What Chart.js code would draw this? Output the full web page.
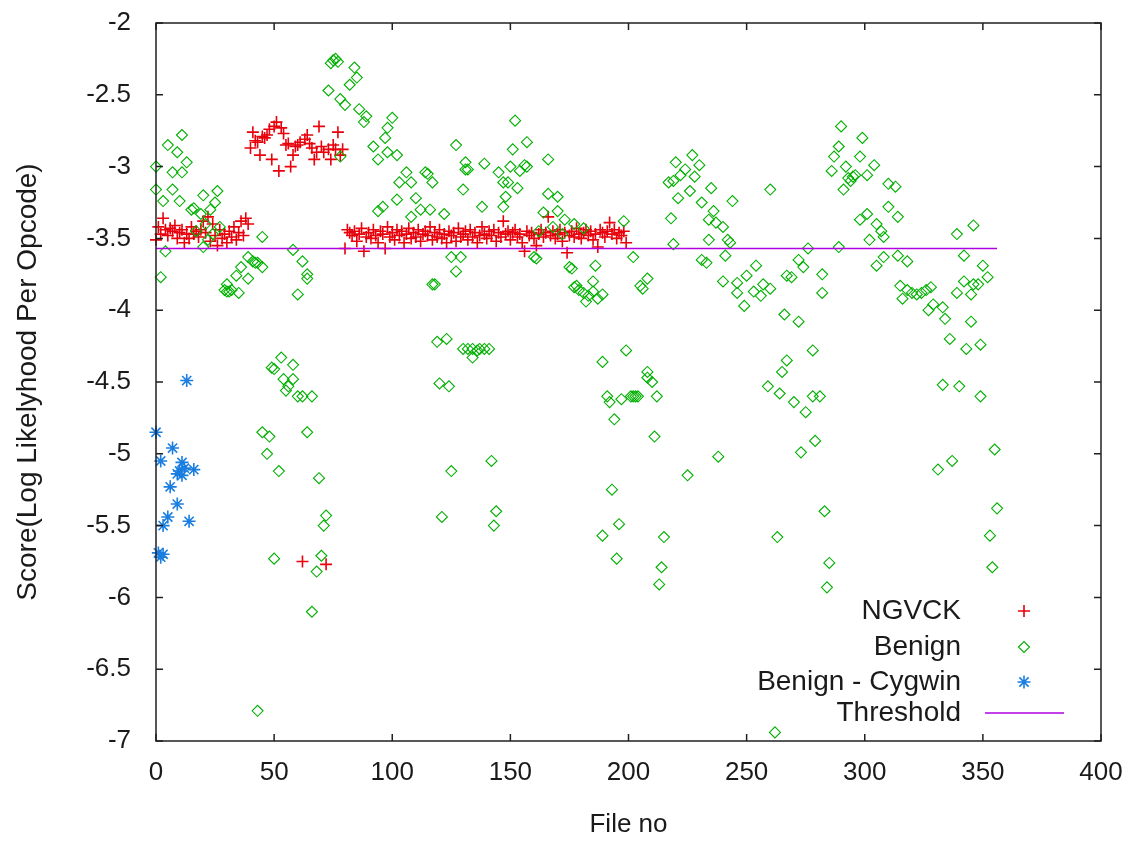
<!DOCTYPE html>
<html lang="en">
    <head>
        <meta charset="UTF-8">
        <title>Score per file</title>
        <style>
            body { margin: 0; background: #fff; }
            .chart-container { position: relative; width: 1131px; height: 841px; }
        </style>
    </head>
    <body>
        <div class="chart-container">
            <canvas id="myChart"></canvas>
        </div>
    </body>
    <script src="https://cdn.jsdelivr.net/npm/chart.js@4.4.1/dist/chart.umd.min.js"></script>
    <script>

        // NGVCK scores, one per file no (0..199)
        const ngvckScores = [
            -3.51,-3.42,-3.47,-3.36,-3.44,-3.48,-3.43,-3.45,-3.41,-3.50,
            -3.46,-3.44,-3.53,-3.47,-3.50,-3.42,-3.47,-3.45,-3.49,-3.44,
            -3.38,-3.46,-3.35,-3.52,-3.40,-3.48,-3.55,-3.44,-3.50,-3.47,
            -3.53,-3.45,-3.49,-3.42,-3.51,-3.46,-3.38,-3.48,-3.36,-3.40,
            -2.87,-2.76,-2.82,-2.83,-2.92,-2.79,-2.80,-2.78,-2.74,-2.95,
            -2.72,-2.69,-3.03,-2.73,-2.77,-2.85,-2.84,-3.00,-2.92,-2.86,
            -2.85,-2.83,-5.75,-2.81,-2.78,-2.84,-2.87,-2.95,-2.90,-2.72,
            -2.86,-2.90,-5.77,-2.88,-2.95,-2.85,-2.88,-2.76,-2.92,-2.88,
            -3.57,-3.44,-3.46,-3.48,-3.45,-3.52,-3.47,-3.43,-3.59,-3.49,
            -3.46,-3.50,-3.44,-3.48,-3.53,-3.45,-3.47,-3.57,-3.42,-3.49,
            -3.46,-3.51,-3.44,-3.48,-3.45,-3.53,-3.47,-3.43,-3.50,-3.46,
            -3.49,-3.44,-3.52,-3.47,-3.45,-3.48,-3.42,-3.51,-3.46,-3.49,
            -3.44,-3.50,-3.47,-3.53,-3.45,-3.48,-3.46,-3.52,-3.43,-3.49,
            -3.47,-3.45,-3.51,-3.44,-3.49,-3.46,-3.53,-3.48,-3.42,-3.47,
            -3.50,-3.45,-3.48,-3.44,-3.52,-3.46,-3.49,-3.38,-3.47,-3.45,
            -3.51,-3.46,-3.44,-3.49,-3.47,-3.53,-3.59,-3.45,-3.48,-3.46,
            -3.50,-3.55,-3.47,-3.44,-3.49,-3.46,-3.35,-3.48,-3.45,-3.50,
            -3.47,-3.44,-3.52,-3.46,-3.60,-3.48,-3.45,-3.49,-3.43,-3.47,
            -3.50,-3.46,-3.44,-3.48,-3.45,-3.51,-3.47,-3.56,-3.44,-3.46,
            -3.49,-3.45,-3.39,-3.47,-3.44,-3.50,-3.46,-3.48,-3.45,-3.53
        ]

        // benign files: [file no, score]
        const benignPoints = [
            [0,-3.00],[0,-3.16],[2,-3.77],[3,-3.24],[4,-3.59],[5,-2.85],[7,-3.04],[7,-3.16],[9,-2.90],[10,-3.24],
            [11,-2.78],[11,-3.04],[13,-2.97],[15,-3.30],[16,-3.29],[17,-3.45],[19,-3.33],[20,-3.20],[20,-3.56],[21,-3.40],
            [22,-3.51],[23,-3.30],[24,-3.47],[25,-3.25],[26,-3.17],[27,-3.42],[29,-3.86],[30,-3.87],[30,-3.82],[31,-3.87],
            [32,-3.86],[34,-3.76],[35,-3.88],[36,-3.70],[39,-3.63],[39,-3.78],[41,-3.66],[42,-3.67],[43,-3.67],[43,-6.79],
            [45,-3.49],[45,-3.70],[45,-4.85],[47,-5.00],[48,-4.88],[49,-4.40],[50,-4.41],[50,-5.73],[52,-5.12],[53,-4.33],
            [54,-4.48],[55,-4.56],[56,-4.53],[58,-3.58],[58,-4.38],[58,-4.48],[60,-3.89],[60,-4.60],[62,-3.66],[62,-4.60],
            [64,-3.75],[64,-3.78],[64,-4.85],[66,-4.60],[66,-6.10],[68,-5.82],[69,-5.17],[70,-5.71],[71,-5.50],[72,-5.43],
            [73,-2.47],[74,-2.28],[75,-2.26],[76,-2.25],[77,-2.27],[78,-2.53],[78,-2.93],[80,-2.57],[82,-2.43],[84,-2.31],
            [85,-2.38],[86,-2.60],[88,-2.69],[89,-2.65],[92,-2.86],[94,-2.95],[94,-3.31],[96,-3.28],[97,-2.80],[98,-2.73],
            [98,-2.90],[100,-2.66],[102,-2.92],[102,-3.23],[103,-3.11],[106,-3.04],[108,-3.11],[108,-3.35],[110,-3.22],[112,-3.30],
            [114,-3.04],[115,-3.05],[116,-3.30],[117,-3.11],[117,-3.82],[118,-3.82],[119,-4.22],[120,-4.51],[121,-5.44],[122,-3.33],
            [123,-4.20],[124,-4.53],[125,-3.63],[125,-5.12],[127,-2.85],[127,-3.73],[129,-3.63],[130,-3.16],[130,-4.27],[131,-2.97],
            [131,-3.02],[132,-3.02],[132,-4.27],[134,-4.27],[134,-4.33],[136,-4.28],[137,-4.27],[138,-3.28],[139,-2.98],[139,-4.27],
            [141,-4.27],[142,-5.05],[143,-5.50],[144,-5.40],[145,-3.04],[147,-3.11],[147,-3.28],[148,-3.21],[149,-3.11],[150,-3.00],
            [151,-2.88],[152,-2.68],[153,-3.15],[154,-3.03],[156,-2.99],[157,-2.83],[157,-3.00],[160,-3.63],[161,-3.64],[162,-3.45],
            [164,-3.32],[166,-2.95],[166,-3.19],[168,-3.42],[170,-3.21],[170,-3.31],[172,-3.47],[173,-3.37],[175,-3.70],[176,-3.71],
            [177,-3.40],[177,-3.84],[178,-3.83],[179,-3.86],[181,-3.43],[181,-3.88],[182,-3.94],[183,-3.90],[185,-3.80],[185,-3.87],
            [186,-3.69],[187,-3.92],[189,-3.89],[189,-4.36],[189,-5.57],[191,-4.60],[192,-4.64],[193,-5.25],[194,-4.76],[195,-5.73],
            [196,-5.49],[197,-4.62],[198,-3.38],[199,-4.28],[201,-4.60],[202,-3.63],[202,-4.60],[203,-4.60],[204,-4.60],[205,-3.83],
            [206,-3.85],[208,-3.78],[208,-4.43],[208,-4.47],[210,-4.50],[211,-4.88],[212,-4.60],[213,-5.91],[214,-5.79],[215,-5.58],
            [217,-3.11],[218,-3.36],[219,-3.10],[219,-3.54],[220,-2.97],[221,-3.22],[222,-3.06],[224,-3.02],[225,-5.15],[226,-3.17],
            [227,-2.92],[228,-3.07],[230,-2.99],[231,-3.25],[231,-3.65],[233,-3.67],[234,-3.37],[234,-3.51],[235,-3.15],[236,-3.31],
            [237,-3.39],[238,-5.02],[240,-3.42],[240,-3.80],[241,-3.62],[242,-3.51],[243,-3.53],[244,-3.24],[246,-3.81],[246,-3.88],
            [249,-3.97],[250,-3.76],[253,-3.87],[254,-3.69],[256,-3.90],[257,-3.82],[259,-4.53],[260,-3.16],[260,-3.85],[262,-6.94],
            [263,-5.58],[264,-4.58],[265,-4.43],[266,-4.03],[267,-3.76],[267,-4.35],[269,-3.77],[270,-4.64],[272,-3.65],[272,-4.08],
            [273,-4.99],[274,-3.70],[275,-4.71],[276,-3.57],[278,-4.28],[278,-4.60],[279,-4.91],[281,-4.60],[282,-3.75],[282,-3.88],
            [283,-5.40],[284,-5.93],[285,-5.76],[286,-3.03],[287,-2.93],[289,-2.86],[289,-3.56],[290,-2.72],[291,-3.16],[292,-3.00],
            [293,-3.08],[294,-3.10],[295,-3.07],[296,-3.06],[298,-2.93],[298,-3.37],[299,-2.80],[301,-3.06],[301,-3.33],[302,-3.51],
            [304,-2.99],[305,-3.40],[305,-3.69],[307,-3.45],[308,-3.49],[308,-3.63],[310,-3.12],[310,-3.28],[313,-3.14],[314,-3.35],
            [314,-3.62],[315,-3.83],[316,-3.92],[318,-3.66],[318,-3.86],[320,-3.88],[322,-3.89],[324,-3.88],[326,-3.86],[327,-4.00],
            [328,-3.84],[329,-3.96],[331,-5.11],[333,-3.98],[333,-4.52],[334,-4.06],[336,-4.20],[337,-5.05],[339,-3.47],[339,-3.88],
            [340,-4.53],[342,-3.62],[342,-3.80],[343,-4.27],[345,-3.89],[345,-4.08],[346,-3.41],[346,-3.82],[348,-3.82],[349,-4.24],
            [349,-4.60],[350,-3.69],[352,-3.77],[353,-5.57],[354,-5.79],[355,-4.97],[356,-5.38]
        ]

        // Cygwin benign files: [file no, score]
        const cygwinPoints = [
            [0,-4.85],[1,-5.69],[2,-5.05],[2,-5.72],[3,-5.50],[3,-5.70],[5,-5.44],[6,-5.23],[7,-4.96],
            [9,-5.14],[9,-5.35],[10,-5.12],[11,-5.06],[11,-5.15],[12,-5.10],[13,-4.49],[14,-5.47],[16,-5.11]
        ]

        const thresholdValue = -3.57
        const thresholdFrom = 0
        const thresholdTo = 356

        const xTicks = { min: 0, max: 400, step: 50 }
        const yTicks = { min: -7, max: -2, step: 0.5 }

        const toXY = p => ({ x: p[0], y: p[1] })

        const ngvckData = ngvckScores.map((s, i) => ({ x: i, y: s }))
        const benignData = benignPoints.map(toXY)
        const cygwinData = cygwinPoints.map(toXY)
        const thresholdData = [
            { x: thresholdFrom, y: thresholdValue },
            { x: thresholdTo, y: thresholdValue }
        ]

        const FONT = "'Liberation Sans', Arial, sans-serif"
        const TEXT = '#1a1a1a'

        const seriesStyle = [
            { label: 'NGVCK', color: '#e8000b', pointStyle: 'cross', radius: 6, width: 1.6 },
            { label: 'Benign', color: '#00b000', pointStyle: 'rectRot', radius: 5.5, width: 1.1 },
            { label: 'Benign - Cygwin', color: '#1a7ee0', pointStyle: 'star', radius: 6.5, width: 1.6 },
            { label: 'Threshold', color: '#b000e0', line: true, width: 1.5 }
        ]

        // gnuplot-like frame, inward ticks and key
        const framePlugin = {
            id: 'frame',
            afterDraw(chart) {
                const ctx = chart.ctx
                const a = chart.chartArea
                const xs = chart.scales.x
                const ys = chart.scales.y
                const tl = 7
                ctx.save()
                ctx.strokeStyle = '#202020'
                ctx.lineWidth = 1.5
                ctx.strokeRect(a.left, a.top, a.right - a.left, a.bottom - a.top)
                ctx.beginPath()
                for (let v = xTicks.min; v <= xTicks.max; v += xTicks.step) {
                    const px = xs.getPixelForValue(v)
                    ctx.moveTo(px, a.bottom); ctx.lineTo(px, a.bottom - tl)
                    ctx.moveTo(px, a.top); ctx.lineTo(px, a.top + tl)
                }
                for (let v = yTicks.min; v <= yTicks.max + 1e-9; v += yTicks.step) {
                    const py = ys.getPixelForValue(v)
                    ctx.moveTo(a.left, py); ctx.lineTo(a.left + tl, py)
                    ctx.moveTo(a.right, py); ctx.lineTo(a.right - tl, py)
                }
                ctx.stroke()

                // key
                const rows = [611, 647, 682, 713]
                ctx.font = '28px ' + FONT
                ctx.textAlign = 'right'
                ctx.textBaseline = 'middle'
                seriesStyle.forEach((s, i) => {
                    ctx.fillStyle = TEXT
                    ctx.fillText(s.label, 961, rows[i])
                    ctx.strokeStyle = s.color
                    ctx.fillStyle = 'rgba(0,0,0,0)'
                    ctx.lineWidth = s.width
                    if (s.line) {
                        ctx.beginPath()
                        ctx.moveTo(985, rows[i]); ctx.lineTo(1064, rows[i])
                        ctx.stroke()
                    } else {
                        Chart.helpers.drawPoint(ctx, {
                            pointStyle: s.pointStyle, radius: s.radius, borderWidth: s.width, rotation: 0
                        }, 1024, rows[i])
                    }
                })
                ctx.restore()
            }
        }

        const bgPlugin = {
            id: 'bg',
            beforeDraw(chart) {
                const ctx = chart.ctx
                ctx.save()
                ctx.fillStyle = '#ffffff'
                ctx.fillRect(0, 0, chart.width, chart.height)
                ctx.restore()
            }
        }

        function pointSet(data, s, order) {
            return {
                label: s.label,
                data: data,
                showLine: false,
                pointStyle: s.pointStyle,
                pointRadius: s.radius,
                pointHoverRadius: s.radius,
                pointBorderColor: s.color,
                pointHoverBorderColor: s.color,
                pointBackgroundColor: 'rgba(0,0,0,0)',
                pointHoverBackgroundColor: 'rgba(0,0,0,0)',
                pointBorderWidth: s.width,
                pointHoverBorderWidth: s.width,
                borderColor: s.color,
                backgroundColor: 'rgba(0,0,0,0)',
                clip: false,
                order: order
            }
        }

        const ctx = document.getElementById('myChart')

        new Chart(ctx, {
            type: 'scatter',
            data: {
                datasets: [
                    pointSet(ngvckData, seriesStyle[0], 4),
                    pointSet(benignData, seriesStyle[1], 3),
                    pointSet(cygwinData, seriesStyle[2], 2),
                    {
                        label: 'Threshold',
                        data: thresholdData,
                        showLine: true,
                        borderColor: seriesStyle[3].color,
                        borderWidth: seriesStyle[3].width,
                        pointRadius: 0,
                        clip: false,
                        order: 1
                    }
                ]
            },
            options: {
                responsive: true,
                maintainAspectRatio: false,
                animation: false,
                events: [],
                layout: { padding: { top: 23, right: 30, left: 0, bottom: 0 } },
                plugins: {
                    legend: { display: false },
                    tooltip: { enabled: false }
                },
                scales: {
                    x: {
                        type: 'linear',
                        min: xTicks.min,
                        max: xTicks.max,
                        grid: { display: false, drawTicks: false },
                        border: { display: false },
                        ticks: {
                            stepSize: xTicks.step,
                            padding: 16,
                            color: TEXT,
                            font: { family: FONT, size: 26 },
                            maxRotation: 0
                        },
                        title: {
                            display: true,
                            text: 'File no',
                            color: TEXT,
                            font: { family: FONT, size: 26 },
                            padding: { top: 0, bottom: 1 }
                        },
                        afterFit: s => {
                            s.height = 100
                            s.paddingLeft = 0
                            s.paddingRight = 0
                        }
                    },
                    y: {
                        type: 'linear',
                        min: yTicks.min,
                        max: yTicks.max,
                        grid: { display: false, drawTicks: false },
                        border: { display: false },
                        ticks: {
                            stepSize: yTicks.step,
                            padding: 25,
                            color: TEXT,
                            font: { family: FONT, size: 26 },
                            callback: v => String(v)
                        },
                        title: {
                            display: true,
                            text: 'Score(Log Likelyhood Per Opcode)',
                            color: TEXT,
                            font: { family: FONT, size: 28 },
                            padding: { top: 11, bottom: 0 }
                        },
                        afterFit: s => {
                            s.width = 156
                            s.paddingTop = 0
                            s.paddingBottom = 0
                        }
                    }
                }
            },
            plugins: [bgPlugin, framePlugin]
        })
    </script>
</html>
